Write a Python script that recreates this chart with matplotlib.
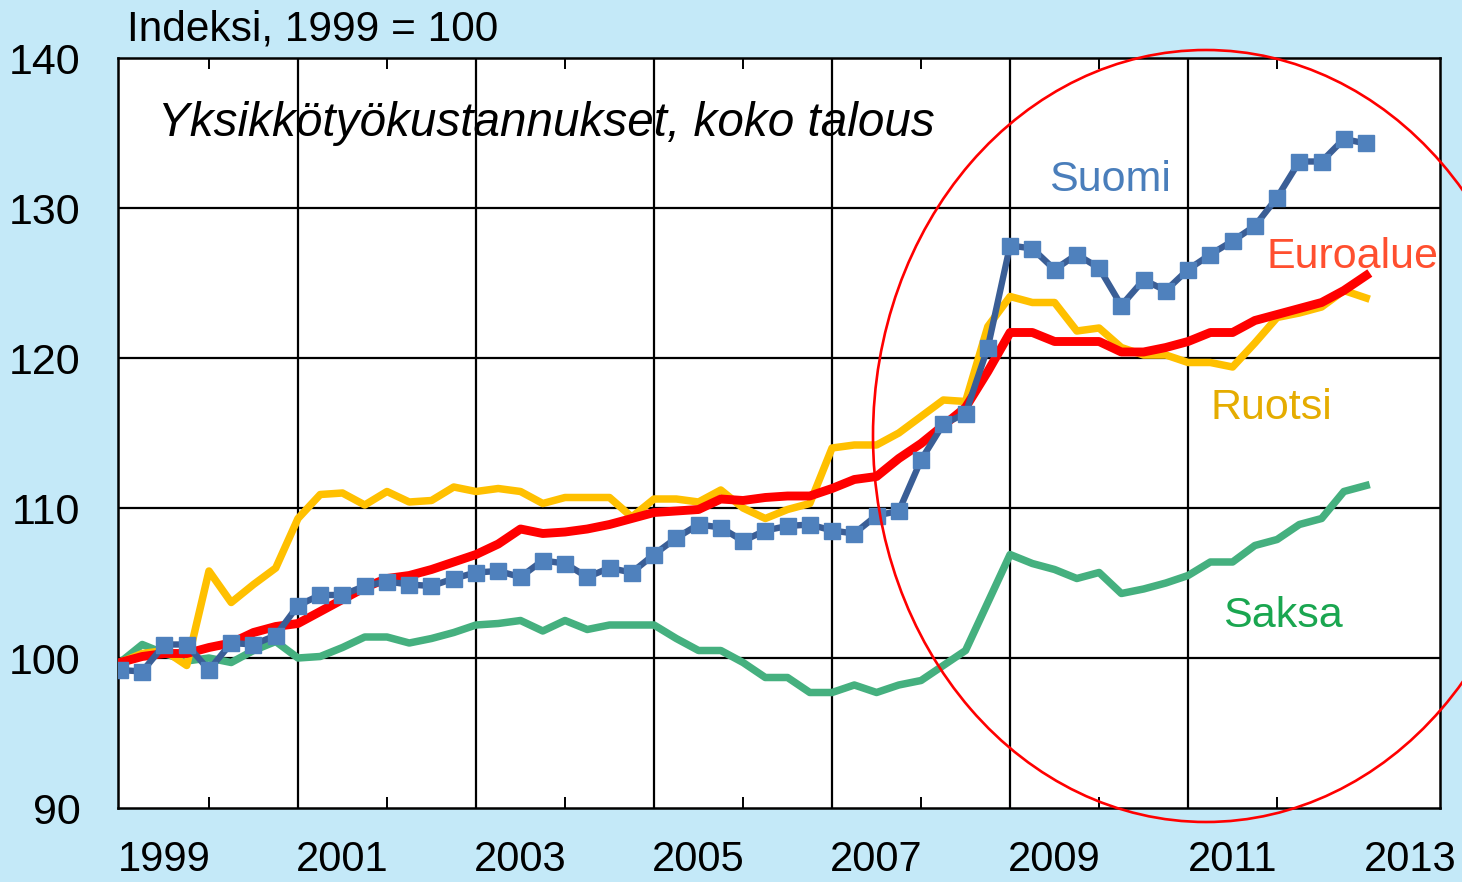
import numpy as np
import matplotlib
matplotlib.use("Agg")
import matplotlib.pyplot as plt
from matplotlib.patches import Ellipse

plt.rcParams["font.family"] = ["Liberation Sans", "DejaVu Sans"]

# Quarterly unit labour cost index, 1999Q1 .. 2013Q1 (1999 = 100)
start_year = 1999
suomi = [99.2, 99.1, 100.9, 100.9, 99.2, 101.0, 100.9, 101.5, 103.5, 104.2,
         104.2, 104.8, 105.1, 104.9, 104.8, 105.3, 105.7, 105.8, 105.4, 106.5,
         106.3, 105.4, 106.0, 105.7, 106.9, 108.0, 108.9, 108.7, 107.8, 108.5,
         108.8, 108.9, 108.5, 108.3, 109.5, 109.8, 113.2, 115.6, 116.3, 120.7,
         127.5, 127.3, 125.9, 126.9, 126.0, 123.5, 125.2, 124.5, 125.9, 126.9,
         127.8, 128.8, 130.7, 133.1, 133.1, 134.6, 134.3]
euroalue = [99.7, 100.1, 100.3, 100.3, 100.7, 101.0, 101.7, 102.1, 102.3, 103.1,
            103.9, 104.7, 105.3, 105.5, 105.9, 106.4, 106.9, 107.6, 108.6, 108.3,
            108.4, 108.6, 108.9, 109.3, 109.7, 109.8, 109.9, 110.6, 110.5, 110.7,
            110.8, 110.8, 111.3, 111.9, 112.1, 113.3, 114.3, 115.5, 116.7, 119.1,
            121.7, 121.7, 121.1, 121.1, 121.1, 120.4, 120.4, 120.7, 121.1, 121.7,
            121.7, 122.5, 122.9, 123.3, 123.7, 124.5, 125.5]
ruotsi = [99.7, 100.3, 100.5, 99.5, 105.8, 103.7, 104.9, 106.0, 109.3, 110.9,
          111.0, 110.2, 111.1, 110.4, 110.5, 111.4, 111.1, 111.3, 111.1, 110.3,
          110.7, 110.7, 110.7, 109.4, 110.6, 110.6, 110.4, 111.2, 110.0, 109.3,
          109.9, 110.3, 114.0, 114.2, 114.2, 115.0, 116.1, 117.2, 117.1, 122.1,
          124.1, 123.7, 123.7, 121.8, 122.0, 120.7, 120.2, 120.2, 119.7, 119.7,
          119.4, 121.0, 122.7, 123.0, 123.4, 124.5, 124.0]
saksa = [99.7, 100.9, 100.3, 99.8, 100.0, 99.7, 100.5, 101.1, 100.0, 100.1,
         100.7, 101.4, 101.4, 101.0, 101.3, 101.7, 102.2, 102.3, 102.5, 101.8,
         102.5, 101.9, 102.2, 102.2, 102.2, 101.3, 100.5, 100.5, 99.7, 98.7,
         98.7, 97.7, 97.7, 98.2, 97.7, 98.2, 98.5, 99.5, 100.5, 103.7,
         106.9, 106.3, 105.9, 105.3, 105.7, 104.3, 104.6, 105.0, 105.5, 106.4,
         106.4, 107.5, 107.9, 108.9, 109.3, 111.1, 111.5]

year_labels = ["1999", "2001", "2003", "2005", "2007", "2009", "2011", "2013"]
y_ticks = [90, 100, 110, 120, 130, 140]

t = start_year + np.arange(len(suomi)) / 4.0

fig = plt.figure(figsize=(14.62, 8.82), dpi=100)
fig.patch.set_facecolor("#c4e9f8")
ax = fig.add_axes([118 / 1462, 1 - 808 / 882, (1440 - 118) / 1462, (808 - 58) / 882])
ax.set_facecolor("white")

# grid
for yv in y_ticks[1:-1]:
    ax.axhline(yv, color="black", lw=1.6, zorder=1)
for yr in range(2001, 2013, 2):
    ax.axvline(yr, color="black", lw=1.6, zorder=1)

# series
ax.plot(t, saksa, color="#45b07f", lw=5.4, zorder=3, solid_joinstyle="round")
ax.plot(t, ruotsi, color="#ffc000", lw=5.4, zorder=4, solid_joinstyle="round")
ax.plot(t, euroalue, color="#ff0000", lw=6.4, zorder=5, solid_joinstyle="round")
ax.plot(t, suomi, color="#3a5e96", lw=4.6, zorder=6, marker="s", markersize=11.5,
        markerfacecolor="#4f81bd", markeredgecolor="#4f81bd")

ax.set_xlim(1998.978, 2013.83)
ax.set_ylim(90, 140)

ax.set_yticks(y_ticks)
ax.tick_params(axis="y", length=0, pad=27, labelsize=31)

ax.set_xticks(np.arange(2000, 2014, 2))
ax.set_xticklabels([])
ax.tick_params(axis="x", which="major", direction="in", length=8, width=1.4,
               top=True, bottom=True)
ax.set_xticks([int(y) + 0.5 for y in year_labels], minor=True)
ax.set_xticklabels(year_labels, minor=True)
ax.tick_params(axis="x", which="minor", length=0, pad=23, labelsize=30)

for s in ax.spines.values():
    s.set_color("black")
    s.set_linewidth(1.8)

ax.text(1999.43, 135.6, "Yksikkötyökustannukset, koko talous", fontsize=34.3,
        style="italic", va="center", ha="left", zorder=7)
fig.text(127 / 1462, 1 - 29 / 882, "Indeksi, 1999 = 100", fontsize=30.5,
         va="center", ha="left")

ax.text(2010.12, 131.87, "Suomi", color="#4a7ebb", fontsize=31, ha="center", va="center")
ax.text(2012.85, 126.73, "Euroalue", color="#ff4f2f", fontsize=31, ha="center", va="center")
ax.text(2011.93, 116.67, "Ruotsi", color="#e5ac00", fontsize=31, ha="center", va="center")
ax.text(2012.06, 102.8, "Saksa", color="#1aa650", fontsize=31, ha="center", va="center")

ell = Ellipse((1206 / 1462, 1 - 436 / 882), 666 / 1462, 772 / 882,
              transform=fig.transFigure, fill=False, edgecolor="#ff0000",
              lw=1.9, zorder=10)
fig.add_artist(ell)

fig.savefig("out.png", dpi=100, facecolor=fig.get_facecolor())
